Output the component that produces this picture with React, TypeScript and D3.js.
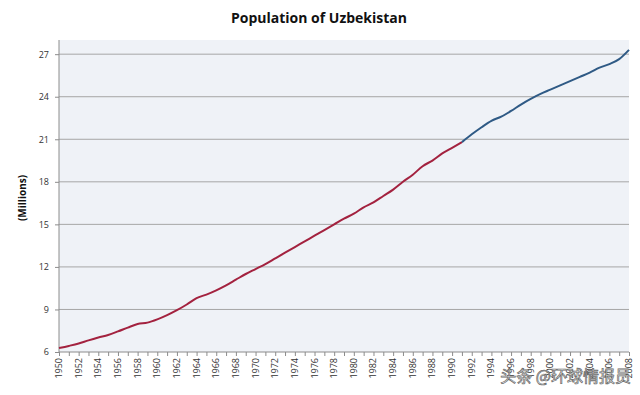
import React, { useEffect, useRef } from "react";
import * as d3 from "d3";

const years = d3.range(1950, 2009);
const population = [
  6.28, 6.43, 6.6, 6.82, 7.02, 7.2, 7.45, 7.72, 7.97, 8.07,
  8.3, 8.6, 8.95, 9.35, 9.8, 10.05, 10.35, 10.7, 11.1, 11.5,
  11.85, 12.2, 12.6, 13.0, 13.4, 13.8, 14.2, 14.6, 15.0, 15.4,
  15.75, 16.2, 16.55, 17.0, 17.45, 18.0, 18.5, 19.1, 19.5, 20.0,
  20.4, 20.8, 21.35, 21.85, 22.3, 22.6, 23.0, 23.45, 23.85, 24.2,
  24.5, 24.8, 25.1, 25.4, 25.7, 26.05, 26.3, 26.65, 27.3
];
const yTicks = [6, 9, 12, 15, 18, 21, 24, 27];
const splitYear = 1991;

export default function App() {
  const ref = useRef<SVGSVGElement>(null);

  useEffect(() => {
    const width = 640, height = 395;
    const margin = { top: 40, right: 11, bottom: 43, left: 59 };
    const svg = d3.select(ref.current);
    svg.selectAll("*").remove();

    const x = d3.scaleLinear().domain([1950, 2008]).range([margin.left, width - margin.right]);
    const y = d3.scaleLinear().domain([6, 28]).range([height - margin.bottom, margin.top]);

    svg.append("rect").attr("width", width).attr("height", height).attr("fill", "#fff");
    svg.append("rect")
      .attr("x", margin.left)
      .attr("y", margin.top)
      .attr("width", width - margin.left - margin.right)
      .attr("height", height - margin.top - margin.bottom)
      .attr("fill", "#eff2f7");

    // gridlines
    svg.append("g")
      .selectAll("line")
      .data(yTicks.filter(d => d > 6))
      .enter()
      .append("line")
      .attr("x1", margin.left)
      .attr("x2", width - margin.right)
      .attr("y1", d => y(d))
      .attr("y2", d => y(d))
      .attr("stroke", "#a6a6a6")
      .attr("stroke-width", 1);

    // y axis
    const yAxis = svg.append("g")
      .attr("transform", `translate(${margin.left},0)`)
      .call(d3.axisLeft(y).tickValues(yTicks).tickSize(4).tickPadding(6));
    yAxis.select(".domain").attr("stroke", "#8c8c8c").attr("d", `M0,${y(6)}V${margin.top}`);
    yAxis.selectAll(".tick line").attr("stroke", "#8c8c8c");
    yAxis.selectAll("text")
      .attr("fill", "#333")
      .style("font-family", "'Open Sans', sans-serif")
      .style("font-size", "9px");

    // x axis
    const xAxis = svg.append("g")
      .attr("transform", `translate(0,${y(6)})`)
      .call(d3.axisBottom(x).tickValues(years).tickSize(4).tickFormat(d => ""));
    xAxis.select(".domain").attr("stroke", "#8c8c8c").attr("d", `M${margin.left},0H${width - margin.right}`);
    xAxis.selectAll(".tick line").attr("stroke", "#8c8c8c");

    svg.append("g")
      .selectAll("text")
      .data(years.filter(d => d % 2 === 0))
      .enter()
      .append("text")
      .attr("transform", d => `translate(${x(d) + 3},${y(6) + 6}) rotate(-90)`)
      .attr("text-anchor", "end")
      .attr("fill", "#333")
      .style("font-family", "'Open Sans', sans-serif")
      .style("font-size", "9px")
      .text(d => d);

    // lines
    const line = d3.line<number>()
      .x((d, i) => x(years[i]))
      .y(d => y(d));
    const pts = years.map((yr, i) => [yr, population[i]] as [number, number]);
    const lineP = d3.line<[number, number]>().x(d => x(d[0])).y(d => y(d[1])).curve(d3.curveMonotoneX);
    svg.append("path")
      .datum(pts.filter(d => d[0] <= splitYear))
      .attr("d", lineP)
      .attr("fill", "none")
      .attr("stroke", "#a3223f")
      .attr("stroke-width", 2);
    svg.append("path")
      .datum(pts.filter(d => d[0] >= splitYear))
      .attr("d", lineP)
      .attr("fill", "none")
      .attr("stroke", "#2f5a85")
      .attr("stroke-width", 2);

    // title
    svg.append("text")
      .attr("x", 319)
      .attr("y", 23)
      .attr("text-anchor", "middle")
      .style("font-family", "'Open Sans', sans-serif")
      .style("font-weight", "bold")
      .style("font-size", "14px")
      .attr("fill", "#111")
      .text("Population of Uzbekistan");

    svg.append("text")
      .attr("transform", `translate(26,${(margin.top + y(6)) / 2 + 2}) rotate(-90)`)
      .attr("text-anchor", "middle")
      .style("font-family", "'Open Sans', sans-serif")
      .style("font-weight", "bold")
      .style("font-size", "10px")
      .attr("fill", "#111")
      .text("(Millions)");

    // watermark
    svg.append("text")
      .attr("x", 631)
      .attr("y", 382)
      .attr("text-anchor", "end")
      .style("font-family", "'Noto Sans CJK SC', sans-serif")
      .style("font-size", "16px")
      .attr("fill", "#fff")
      .attr("fill-opacity", 0.85)
      .attr("stroke", "#666")
      .attr("stroke-width", 0.7)
      .text("头条 @环球情报员");
  }, []);

  return (
    <svg
      ref={ref}
      width={640}
      height={395}
      style={{ position: "absolute", left: 0, top: 0, display: "block" }}
    />
  );
}
